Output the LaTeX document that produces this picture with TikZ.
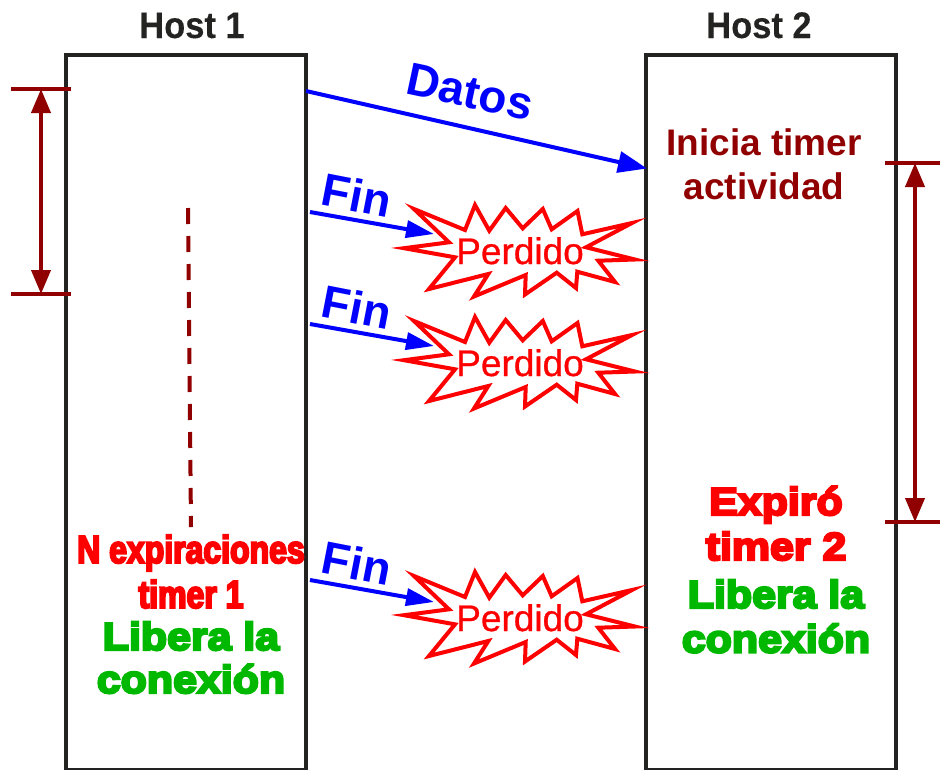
\documentclass[tikz,border=0pt]{standalone}
\usepackage{fontspec}
\setmainfont{Liberation Sans}
\newfontfamily\hostfont[FakeBold=0.2,FakeStretch=0.93]{Liberation Sans Bold}
\newfontfamily\lostfont[FakeBold=0.8]{Liberation Sans}
\newfontfamily\boldfont{Liberation Sans Bold}
\newfontfamily\condfont[FakeBold=5,FakeStretch=0.82]{Liberation Sans Bold}
\newfontfamily\widefont[FakeBold=6,FakeStretch=1.1]{Liberation Sans Bold}
\usetikzlibrary{arrows.meta}
\definecolor{hostgray}{RGB}{35,35,33}
\definecolor{darkred}{RGB}{145,0,0}
\definecolor{pure}{RGB}{0,0,255}
\definecolor{libgreen}{RGB}{0,184,0}
\tikzset{
  x=1pt,y=-1pt,
  hostbox/.style={draw=hostgray,line width=4pt},
  hosttitle/.style={font=\fontsize{37}{37}\selectfont\hostfont,text=hostgray,inner sep=0pt,anchor=base},
  tick/.style={draw=darkred,line width=4pt},
  span/.style={draw=darkred,line width=4pt,{Triangle[length=24pt,width=19pt]}-{Triangle[length=24pt,width=19pt]}},
  msg/.style={draw=pure,line width=4pt,-{Triangle[length=28pt,width=17pt]}},
  datamsg/.style={draw=pure,line width=4pt,-{Triangle[length=29pt,width=21pt]}},
  msglabel/.style={font=\fontsize{46}{46}\selectfont\boldfont,text=pure,inner sep=0pt},
  burst/.style={draw=red,line width=4pt,fill=white,miter limit=10},
  lost/.style={font=\fontsize{37}{37}\selectfont\lostfont,text=red,inner sep=0pt,anchor=base},
  condred/.style={font=\fontsize{39}{39}\selectfont\condfont,text=red,inner sep=0pt,anchor=base},
  widered/.style={font=\fontsize{39}{39}\selectfont\widefont,text=red,inner sep=0pt,anchor=base},
  widegreen/.style={font=\fontsize{39}{39}\selectfont\widefont,text=libgreen,inner sep=0pt,anchor=base},
  timer/.style={font=\fontsize{37}{37}\selectfont\boldfont,text=darkred,inner sep=0pt,anchor=base},
}
\newcommand{\burstat}[2]{%
  \begin{scope}[shift={(0,#1)}]
  \draw[burst] (414,209)--(465,230)--(475,205)--(489.3,230.7)--(505.7,208)--(522.7,228.3)--(542.8,209)--(551.7,229.3)--(577.5,211)--(582.3,234.3)--(632,223)--(586,247.3)--(635,259.5)--(598.3,260.7)--(615,282)--(577.3,271.7)--(576,288)--(556.7,272.7)--(525,294.5)--(525.7,275)--(474,296.5)--(488.3,274)--(429,289)--(455,257.3)--(404,248.2)--(449,242.3)--cycle;
  \node[lost] (#2) at (520,264) {Perdido};
  \end{scope}}
\begin{document}
\begin{tikzpicture}
\useasboundingbox (0,0) rectangle (940,769);
% hosts
\draw[hostbox] (65.5,54.7) rectangle (306,770.3);
\draw[hostbox] (646,54.7) rectangle (896,770.3);
\node[hosttitle] (h1) at (192,38) {Host 1};
\node[hosttitle] (h2) at (759,38) {Host 2};
% left interval
\coordinate (la1) at (11,89); \coordinate (la2) at (71,89);
\coordinate (lb1) at (11,294); \coordinate (lb2) at (71,294);
\coordinate (lc1) at (41,89); \coordinate (lc2) at (41,294);
\draw[tick] (la1) -- (la2);
\draw[tick] (lb1) -- (lb2);
\draw[span] (lc1) -- (lc2);
% right interval
\coordinate (ra1) at (885,163); \coordinate (ra2) at (940,163);
\coordinate (rb1) at (885,522); \coordinate (rb2) at (940,522);
\coordinate (rc1) at (915,163); \coordinate (rc2) at (915,522);
\draw[tick] (ra1) -- (ra2);
\draw[tick] (rb1) -- (rb2);
\draw[span] (rc1) -- (rc2);
% dashed
\coordinate (d1) at (188,208); \coordinate (d2) at (191,527);
\draw[draw=darkred,line width=4pt,dash pattern=on 16pt off 12pt] (d1) -- (d2);
% data
\coordinate (ds) at (306,91); \coordinate (de) at (647,168.5);
\draw[datamsg] (ds) -- (de);
\node[msglabel,rotate=-12] (datos) at (470,92) {Datos};
\node[timer] (t1) at (764,155) {Inicia timer};
\node[timer] (t2) at (764,199) {actividad};
% bursts
\burstat{0}{p1}
\burstat{112}{p2}
\burstat{367}{p3}
\coordinate (f1s) at (310,212); \coordinate (f1e) at (434,234);
\coordinate (f2s) at (310,324); \coordinate (f2e) at (434,346);
\coordinate (f3s) at (310,580); \coordinate (f3e) at (434,602);
\draw[msg] (f1s) -- (f1e);
\draw[msg] (f2s) -- (f2e);
\draw[msg] (f3s) -- (f3e);
\node[msglabel,rotate=-11] (fin1) at (357,195) {Fin};
\node[msglabel,rotate=-11] (fin2) at (357,307) {Fin};
\node[msglabel,rotate=-11] (fin3) at (357,563) {Fin};
% left text
\node[condred] (n1) at (191,563) {N expiraciones};
\node[condred] (n2) at (191,608) {timer 1};
\node[widegreen] (l1) at (191,650) {Libera la};
\node[widegreen] (l2) at (191,693) {conexión};
% right text
\node[widered] (e1) at (776,515) {Expiró};
\node[widered] (e2) at (776,560) {timer 2};
\node[widegreen] (r1) at (776,608) {Libera la};
\node[widegreen] (r2) at (776,652.5) {conexión};
\end{tikzpicture}
\end{document}
